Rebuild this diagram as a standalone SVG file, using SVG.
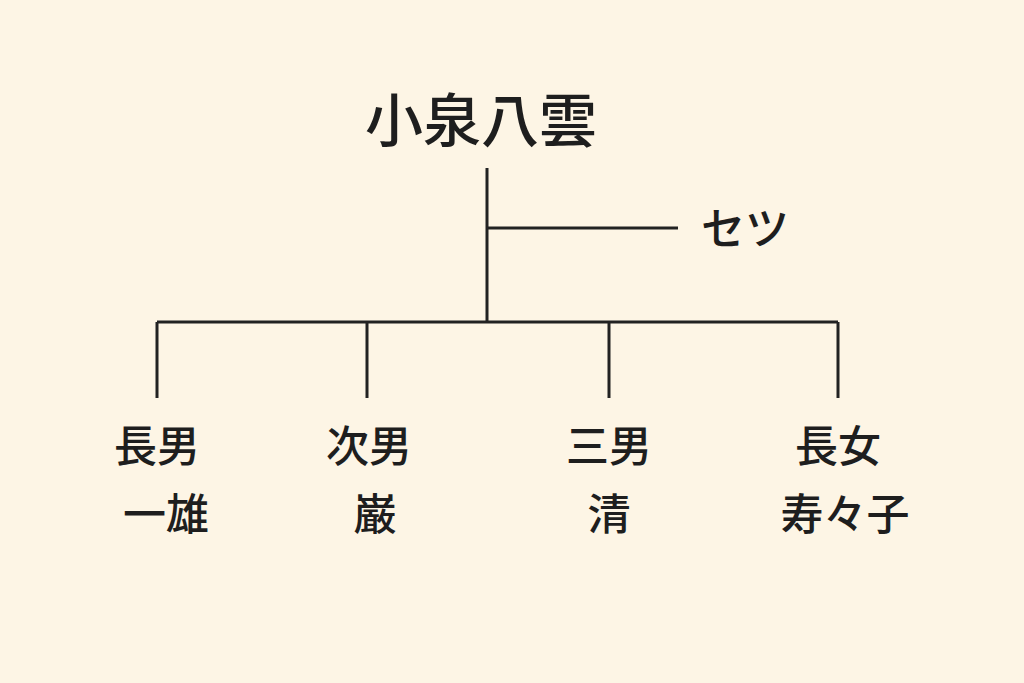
<svg xmlns="http://www.w3.org/2000/svg" width="1024" height="683" viewBox="0 0 1024 683">
<style>
.t{font-family:"Noto Sans CJK JP","Noto Sans",sans-serif;fill:#1e1e1e;text-anchor:middle;font-weight:500}
.c{font-size:43px}
.l{stroke:#222;stroke-width:3;fill:none}
</style>
<rect width="1024" height="683" fill="#fdf5e5"/>
<g id="connectors">
<path class="l" d="M487 168V322M487 228H678M157 322H838M157 322V398M367 322V398M609 322V398M838 322V398"/>
</g>
<g id="yakumo"><text class="t" x="481" y="142" font-size="58">小泉八雲</text></g>
<g id="setsu"><text class="t" x="745" y="245" font-size="44">セツ</text></g>
<g id="kazuo"><text class="t c" x="157" y="462">長男</text><text class="t c" x="166" y="530">一雄</text></g>
<g id="iwao"><text class="t c" x="369" y="462">次男</text><text class="t c" x="375" y="530">巌</text></g>
<g id="kiyoshi"><text class="t c" x="609" y="462">三男</text><text class="t c" x="609" y="530">清</text></g>
<g id="suzuko"><text class="t c" x="838" y="462">長女</text><text class="t c" x="845" y="530">寿々子</text></g>
</svg>
